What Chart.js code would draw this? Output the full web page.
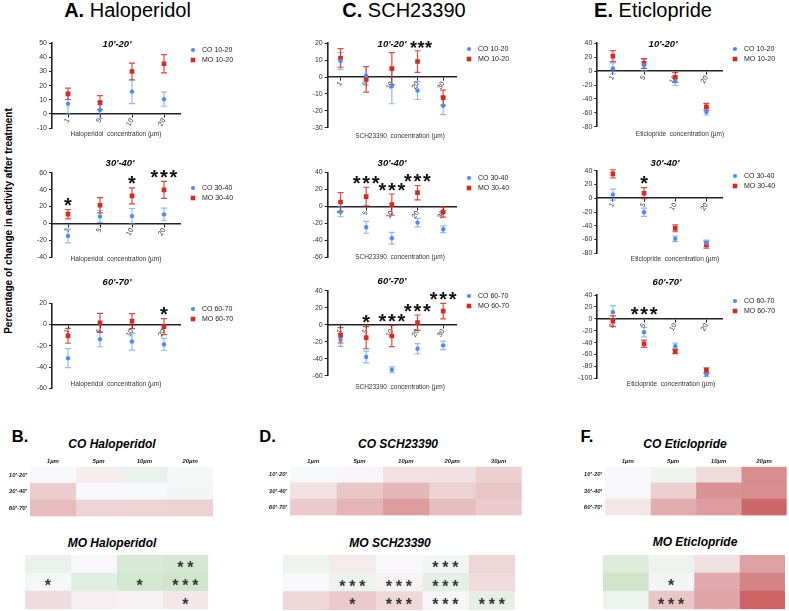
<!DOCTYPE html>
<html>
<head>
<meta charset="utf-8">
<title>Change in activity after treatment</title>
<script src="https://cdn.jsdelivr.net/npm/chart.js@4.4.1/dist/chart.umd.min.js"></script>
<style>
  html, body { margin: 0; padding: 0; background: #fff; }
  body { position: relative; width: 789px; height: 611px; overflow: hidden; font-family: 'Liberation Sans', Arial, sans-serif; }
  canvas { position: absolute; }
  .lbl { position: absolute; white-space: nowrap; line-height: 1; transform: translate(-50%, -50%); color: #000; }
  .drug { font-size: 20px; }
  .letter { font-size: 16.5px; font-weight: bold; }
  .heat { font-size: 12px; font-weight: bold; font-style: italic; }
  .ylab { font-size: 10px; font-weight: bold; transform: translate(-50%, -50%) rotate(-90deg); }
</style>
</head>
<body>
<div class="lbl drug" style="left:127.5px;top:9.7px"><b>A.</b> Haloperidol</div>
<div class="lbl drug" style="left:404px;top:9.7px"><b>C.</b> SCH23390</div>
<div class="lbl drug" style="left:653px;top:9.7px"><b>E.</b> Eticlopride</div>
<div class="lbl ylab" style="left:8.5px;top:221px">Percentage of change in activity after treatment</div>

<div class="lbl letter" style="left:20px;top:435.5px">B.</div>
<div class="lbl letter" style="left:267.5px;top:435.5px">D.</div>
<div class="lbl letter" style="left:587px;top:435.5px">F.</div>
<div class="lbl heat" style="left:112px;top:444px">CO Haloperidol</div>
<div class="lbl heat" style="left:112px;top:542.7px">MO Haloperidol</div>
<div class="lbl heat" style="left:398px;top:443.5px">CO SCH23390</div>
<div class="lbl heat" style="left:390px;top:542.7px">MO SCH23390</div>
<div class="lbl heat" style="left:685px;top:444px">CO Eticlopride</div>
<div class="lbl heat" style="left:695px;top:542px">MO Eticlopride</div>

<script>
const FONT = "'Liberation Sans', Arial, sans-serif";
Chart.defaults.font.family = FONT;

// categories
const haloDoses = ['1', '5', '10', '20'];
const schDoses = ['1', '5', '10', '20', '30'];
const eticDoses = ['1', '5', '10', '20'];
const windows = ["10'-20'", "30'-40'", "60'-70'"];
const legendWindows = ['10-20', '30-40', '60-70'];
const haloCols = ['1µm', '5µm', '10µm', '20µm'];
const schCols = ['1µm', '5µm', '10µm', '20µm', '30µm'];
const eticCols = ['1µm', '5µm', '10µm', '20µm'];

// A. Haloperidol (mean, error)
const haloCO10 = [7.1, 2.8, 15.8, 10.4];
const haloCO10Err = [7, 6, 8.5, 5];
const haloMO10 = [14.2, 8.0, 30.0, 35.5];
const haloMO10Err = [4, 5, 6, 6.5];
const haloCO30 = [-14.7, 8.3, 8.7, 10.7];
const haloCO30Err = [8.3, 7, 9, 7.5];
const haloMO30 = [11.0, 21.5, 32.6, 39.7];
const haloMO30Err = [5.5, 9, 9.5, 10];
const haloCO60 = [-31.6, -13.9, -16.0, -18.7];
const haloCO60Err = [9, 7, 8, 5.7];
const haloMO60 = [-10.6, 1.6, 3.2, -1.9];
const haloMO60Err = [7, 9, 7, 7.5];
const haloStars10 = ['', '', '', ''];
const haloStars30 = ['*', '', '*', '***'];
const haloStars60 = ['', '', '', '*'];

// C. SCH23390
const schCO10 = [9.5, 0.8, -5.3, -8.0, -17.0];
const schCO10Err = [5, 5.5, 10.5, 5.3, 5.3];
const schMO10 = [11.3, -1.4, 5.0, 9.2, -12.2];
const schMO10Err = [5.5, 7.5, 9.5, 6.4, 4.5];
const schCO30 = [-6.3, -24.7, -37.6, -19.2, -27.0];
const schCO30Err = [6, 7, 7, 5, 4];
const schMO30 = [5.1, 11.4, 2.0, 16.0, -6.7];
const schMO30Err = [11, 11, 12.5, 8.5, 6];
const schCO60 = [-17.6, -38.0, -53.0, -28.2, -24.3];
const schCO60Err = [8, 7, 3.5, 6, 5];
const schMO60 = [-12.5, -15.3, -13.3, 2.4, 16.0];
const schMO60Err = [9, 13, 12.5, 9, 9.2];
const schStars10 = ['', '', '', '', ''];
const schStars30 = ['', '***', '***', '***', ''];
const schStars60 = ['', '*', '***', '***', '***'];

// E. Eticlopride
const eticCO10 = [3.8, 8.7, -14.4, -58.7];
const eticCO10Err = [8, 8, 6, 4.5];
const eticMO10 = [21.6, 11.0, -9.1, -51.4];
const eticMO10Err = [8, 7, 7, 5];
const eticCO30 = [5.3, -20.4, -59.0, -65.0];
const eticCO30Err = [8, 6, 4, 4];
const eticMO30 = [35.4, 7.3, -43.7, -67.5];
const eticMO30Err = [6, 8, 5, 5];
const eticCO60 = [11.2, -22.4, -46.0, -93.5];
const eticCO60Err = [11, 8, 5, 3.5];
const eticMO60 = [-4.0, -42.0, -55.0, -86.8];
const eticMO60Err = [9, 6, 3.5, 4.5];
const eticStars10 = ['', '', '', ''];
const eticStars30 = ['', '*', '', ''];
const eticStars60 = ['', '***', '', ''];

// heat maps: % change per window (rows) and dose (columns)
const heatHaloCO = [[0, -7, 14, 3], [-26, 0, 1, 5], [-36, -22, -22, -23]];
const heatHaloMO = [[13, 0, 32, 34], [2, 21, 36, 40], [-17, -6, -3, -10]];
const heatHaloMOStars = [['', '', '', '**'], ['*', '', '*', '***'], ['', '', '', '*']];
const heatSchCO = [[1, -2, -13, -14, -24], [-13, -30, -38, -23, -30], [-27, -41, -55, -35, -27]];
const heatSchMO = [[10, -8, 0, 5, -21], [0, 10, -3, 18, -17], [-20, -28, -19, -2, 18]];
const heatSchMOStars = [['', '', '', '***', ''], ['', '***', '***', '***', ''], ['', '*', '***', '***', '***']];
const heatEticCO = [[0, 9, -18, -65], [0, -25, -61, -64], [-11, -45, -55, -87]];
const heatEticMO = [[25, 10, -14, -52], [41, 4, -47, -70], [12, -30, -50, -89]];
const heatEticMOStars = [['', '', '', ''], ['', '*', '', ''], ['', '***', '', '']];

const BLUE = '#4f8bf0', BLUE_BAR = 'rgba(79,139,240,0.6)';
const RED = '#d42b20', RED_BAR = 'rgba(212,43,32,0.85)';

function makeCanvas(left, top, w, h) {
  const cv = document.createElement('canvas');
  cv.width = w; cv.height = h;
  cv.style.left = left + 'px'; cv.style.top = top + 'px';
  cv.style.width = w + 'px'; cv.style.height = h + 'px';
  document.body.appendChild(cv);
  return cv;
}

function drawStars(ctx, str, cx, cy, size, adv, color) {
  if (!str) return;
  ctx.save();
  ctx.font = `bold ${size}px ${FONT}`;
  ctx.fillStyle = color;
  ctx.textAlign = 'center';
  ctx.textBaseline = 'alphabetic';
  for (let k = 0; k < str.length; k++) {
    ctx.fillText(str[k], cx + (k - (str.length - 1) / 2) * adv, cy + size * 0.58);
  }
  ctx.restore();
}

function heatColor(v) {
  const t = Math.min(Math.abs(v) / 100, 1);
  if (v < 0) return `rgb(${Math.round(248 - 50 * t)},${Math.round(248 - 166 * t)},${Math.round(250 - 166 * t)})`;
  return `rgb(${Math.round(248 - 100 * t)},${Math.round(248 - 48 * t)},${Math.round(250 - 115 * t)})`;
}

const panels = [
  { doses: haloDoses, drug: 'Haloperidol', win: 0, co: haloCO10, coErr: haloCO10Err, mo: haloMO10, moErr: haloMO10Err, stars: haloStars10,
    yMin: -10, yMax: 50, yStep: 10, area: { l: 52, r: 180, t: 43.3, b: 128 }, title: { x: 117, y: 44 }, xl: { x: 116, y: 134 }, lg: { x: 193, y: 50 } },
  { doses: haloDoses, drug: 'Haloperidol', win: 1, co: haloCO30, coErr: haloCO30Err, mo: haloMO30, moErr: haloMO30Err, stars: haloStars30,
    yMin: -40, yMax: 60, yStep: 20, area: { l: 52, r: 180, t: 172.7, b: 257.3 }, title: { x: 120, y: 163 }, xl: { x: 116, y: 259 }, lg: { x: 193, y: 188 } },
  { doses: haloDoses, drug: 'Haloperidol', win: 2, co: haloCO60, coErr: haloCO60Err, mo: haloMO60, moErr: haloMO60Err, stars: haloStars60,
    yMin: -60, yMax: 20, yStep: 20, area: { l: 52, r: 180, t: 303.3, b: 388.3 }, title: { x: 117, y: 282 }, xl: { x: 116, y: 384 }, lg: { x: 193, y: 309 } },
  { doses: schDoses, drug: 'SCH23390', win: 0, co: schCO10, coErr: schCO10Err, mo: schMO10, moErr: schMO10Err, stars: schStars10, titleStars: '***',
    yMin: -30, yMax: 20, yStep: 10, area: { l: 327.7, r: 456, t: 43.3, b: 127.7 }, title: { x: 392, y: 44, sx: 421 }, xl: { x: 400, y: 136 }, lg: { x: 469, y: 49 } },
  { doses: schDoses, drug: 'SCH23390', win: 1, co: schCO30, coErr: schCO30Err, mo: schMO30, moErr: schMO30Err, stars: schStars30,
    yMin: -60, yMax: 40, yStep: 20, area: { l: 327.7, r: 456, t: 172.3, b: 257.3 }, title: { x: 392, y: 163 }, xl: { x: 400, y: 257 }, lg: { x: 469, y: 178 } },
  { doses: schDoses, drug: 'SCH23390', win: 2, co: schCO60, coErr: schCO60Err, mo: schMO60, moErr: schMO60Err, stars: schStars60,
    yMin: -60, yMax: 40, yStep: 20, area: { l: 327.7, r: 456, t: 290.7, b: 375.7 }, title: { x: 392, y: 281 }, xl: { x: 400, y: 387 }, lg: { x: 469, y: 296 } },
  { doses: eticDoses, drug: 'Eticlopride', win: 0, co: eticCO10, coErr: eticCO10Err, mo: eticMO10, moErr: eticMO10Err, stars: eticStars10,
    yMin: -80, yMax: 40, yStep: 20, area: { l: 597.3, r: 722, t: 43.3, b: 126.7 }, title: { x: 663, y: 44 }, xl: { x: 680, y: 134 }, lg: { x: 735, y: 49 } },
  { doses: eticDoses, drug: 'Eticlopride', win: 1, co: eticCO30, coErr: eticCO30Err, mo: eticMO30, moErr: eticMO30Err, stars: eticStars30,
    yMin: -80, yMax: 40, yStep: 20, area: { l: 597.3, r: 722, t: 170.7, b: 253.3 }, title: { x: 665, y: 163 }, xl: { x: 675, y: 259 }, lg: { x: 735, y: 176 } },
  { doses: eticDoses, drug: 'Eticlopride', win: 2, co: eticCO60, coErr: eticCO60Err, mo: eticMO60, moErr: eticMO60Err, stars: eticStars60, starGap: 18,
    yMin: -100, yMax: 40, yStep: 20, area: { l: 597.3, r: 722, t: 295, b: 378.3 }, title: { x: 667, y: 282 }, xl: { x: 671, y: 384 }, lg: { x: 735, y: 301 } }
];

function scatterDecor(p, ox, oy) {
  return {
    id: 'scatterDecor',
    beforeDatasetsDraw(chart) {
      const { ctx, scales: { x, y } } = chart;
      chart.data.datasets.forEach(ds => {
        ctx.save();
        ctx.strokeStyle = ds.barColor;
        ctx.lineWidth = 1.2;
        ds.data.forEach((v, j) => {
          const px = x.getPixelForValue(j);
          const y1 = y.getPixelForValue(v + ds.err[j]);
          const y2 = y.getPixelForValue(v - ds.err[j]);
          ctx.beginPath();
          ctx.moveTo(px, y1); ctx.lineTo(px, y2);
          ctx.moveTo(px - 3, y1); ctx.lineTo(px + 3, y1);
          ctx.moveTo(px - 3, y2); ctx.lineTo(px + 3, y2);
          ctx.stroke();
        });
        ctx.restore();
      });
    },
    afterDraw(chart) {
      const { ctx, scales: { x, y } } = chart;
      // significance, placed above the higher error bar of each dose
      p.stars.forEach((s, j) => {
        if (!s) return;
        const top = Math.min(y.getPixelForValue(p.co[j] + p.coErr[j]), y.getPixelForValue(p.mo[j] + p.moErr[j]));
        drawStars(ctx, s, x.getPixelForValue(j), top - (p.starGap || 9), 20, 9.5, '#111');
      });
      ctx.save();
      // window title
      ctx.font = `italic bold 9.5px ${FONT}`;
      ctx.fillStyle = '#000';
      ctx.textAlign = 'center';
      ctx.textBaseline = 'middle';
      ctx.fillText(windows[p.win], p.title.x - ox, p.title.y - oy);
      if (p.titleStars) drawStars(ctx, p.titleStars, p.title.sx - ox, p.title.y - oy, 18, 7.5, '#111');
      // x axis label
      ctx.font = `6.5px ${FONT}`;
      ctx.fillStyle = '#333';
      ctx.fillText(p.drug + '  concentration (µm)', p.xl.x - ox, p.xl.y - oy);
      // legend
      ctx.textAlign = 'left';
      ctx.font = `7px ${FONT}`;
      chart.data.datasets.forEach((ds, i) => {
        const mx = p.lg.x - ox, my = p.lg.y - oy + i * 10;
        ctx.fillStyle = ds.backgroundColor;
        ctx.beginPath();
        if (ds.pointStyle === 'circle') ctx.arc(mx, my, 2.1, 0, Math.PI * 2);
        else ctx.rect(mx - 2.3, my - 2.3, 4.6, 4.6);
        ctx.fill();
        ctx.fillStyle = '#222';
        ctx.fillText(ds.label, mx + 9, my);
      });
      ctx.restore();
    }
  };
}

function scatterChart(p) {
  const left = Math.floor(p.area.l - 36);
  const top = Math.floor(Math.min(p.area.t, p.title.y) - 12);
  const right = Math.ceil(p.lg.x + 70);
  const bottom = Math.ceil(Math.max(p.area.b, p.xl.y) + 10);
  const cv = makeCanvas(left, top, right - left, bottom - top);
  const axisTicks = { font: { size: 7 }, color: '#333' };
  new Chart(cv, {
    type: 'line',
    data: {
      labels: p.doses,
      datasets: [
        { label: 'CO ' + legendWindows[p.win], data: p.co, err: p.coErr, barColor: BLUE_BAR, showLine: false,
          pointStyle: 'circle', pointRadius: 2.2, backgroundColor: BLUE, borderColor: BLUE, pointBorderWidth: 0 },
        { label: 'MO ' + legendWindows[p.win], data: p.mo, err: p.moErr, barColor: RED_BAR, showLine: false,
          pointStyle: 'rect', pointRadius: 3.3, backgroundColor: RED, borderColor: RED, pointBorderWidth: 0 }
      ]
    },
    options: {
      responsive: false,
      animation: false,
      layout: { padding: { left: p.area.l - left - 32, top: p.area.t - top, right: right - p.area.r, bottom: bottom - p.area.b } },
      plugins: { legend: { display: false }, tooltip: { enabled: false } },
      scales: {
        x: {
          type: 'category', offset: true, position: { y: 0 },
          grid: { drawOnChartArea: false, tickLength: 3, color: '#222' },
          border: { color: '#222', width: 1.6 },
          ticks: { ...axisTicks, minRotation: 60, maxRotation: 60, padding: 0, autoSkip: false }
        },
        y: {
          min: p.yMin, max: p.yMax,
          grid: { drawOnChartArea: false, tickLength: 3, color: '#222' },
          border: { color: '#222', width: 1.6 },
          ticks: { ...axisTicks, stepSize: p.yStep, padding: 2 },
          afterFit: s => { s.width = 32; }
        }
      }
    },
    plugins: [scatterDecor(p, left, top)]
  });
}

const heatmaps = [
  { cols: haloCols, values: heatHaloCO, labels: true, area: { l: 30, r: 213, t: 466.7, b: 520.7 } },
  { cols: haloCols, values: heatHaloMO, stars: heatHaloMOStars, area: { l: 25, r: 208.3, t: 555, b: 609.3 } },
  { cols: schCols, values: heatSchCO, labels: true, area: { l: 290, r: 521.7, t: 466.7, b: 520 } },
  { cols: schCols, values: heatSchMO, stars: heatSchMOStars, area: { l: 282.7, r: 515, t: 555, b: 610 } },
  { cols: eticCols, values: heatEticCO, labels: true, area: { l: 605, r: 786.7, t: 466.7, b: 520 } },
  { cols: eticCols, values: heatEticMO, stars: heatEticMOStars, area: { l: 602.7, r: 785, t: 555, b: 609.3 } }
];

function heatStars(h) {
  return {
    id: 'heatStars',
    afterDatasetsDraw(chart) {
      if (!h.stars) return;
      const { ctx, scales: { x, y } } = chart;
      h.stars.forEach((row, i) => row.forEach((s, j) => {
        drawStars(ctx, s, x.getPixelForValue(j + 0.5), y.getPixelForValue(i), 16, 10, '#333');
      }));
    }
  };
}

function heatChart(h) {
  const yW = h.labels ? 26 : 0, topH = h.labels ? 9 : 0;
  const left = Math.floor(h.area.l - yW - 3);
  const top = Math.floor(h.area.t - topH - 3);
  const right = Math.ceil(h.area.r + 2);
  const bottom = Math.ceil(h.area.b + 2);
  const cv = makeCanvas(left, top, right - left, bottom - top);
  const labelFont = { size: 6, style: 'italic', weight: 'bold' };
  new Chart(cv, {
    type: 'bar',
    data: {
      labels: windows,
      datasets: h.cols.map((c, j) => ({
        label: c,
        data: windows.map(() => [j, j + 1]),
        backgroundColor: h.values.map(row => heatColor(row[j])),
        grouped: false, barPercentage: 1, categoryPercentage: 1, borderWidth: 0,
        xAxisID: 'x', yAxisID: 'y'
      }))
    },
    options: {
      indexAxis: 'y',
      responsive: false,
      animation: false,
      layout: { padding: { left: h.area.l - left - yW, top: h.area.t - top - topH, right: right - h.area.r, bottom: bottom - h.area.b } },
      plugins: { legend: { display: false }, tooltip: { enabled: false } },
      scales: {
        x: { type: 'linear', min: 0, max: h.cols.length, display: false },
        xTop: {
          axis: 'x', type: 'category', labels: h.cols, position: 'top', offset: true, display: !!h.labels,
          grid: { display: false, drawTicks: false }, border: { display: false },
          ticks: { font: labelFont, color: '#222', padding: 2, maxRotation: 0, autoSkip: false },
          afterFit: s => { s.height = topH; }
        },
        y: {
          type: 'category', display: !!h.labels,
          grid: { display: false, drawTicks: false }, border: { display: false },
          ticks: { font: labelFont, color: '#222', padding: 3 },
          afterFit: s => { s.width = yW; }
        }
      }
    },
    plugins: [heatStars(h)]
  });
}

panels.forEach(scatterChart);
heatmaps.forEach(heatChart);
</script>
</body>
</html>
